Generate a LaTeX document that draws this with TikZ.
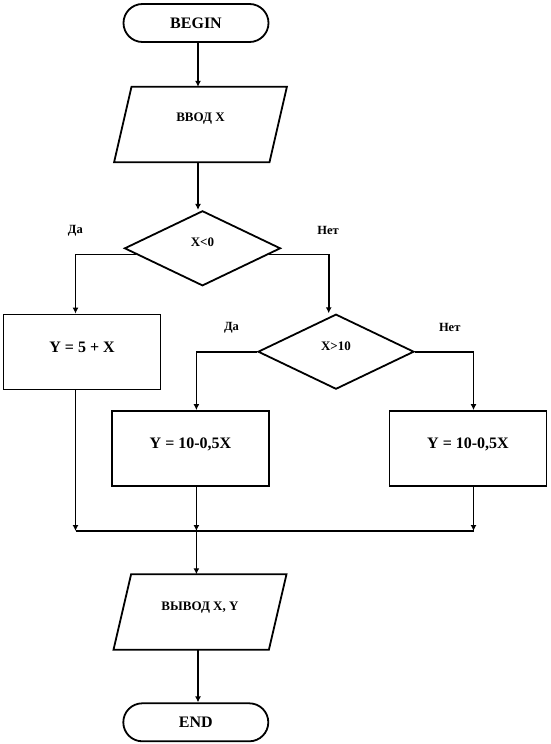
\documentclass[tikz,border=0pt]{standalone}
\usepackage{fontspec}
\setmainfont{Liberation Serif}
\usetikzlibrary{shapes.geometric,shapes.misc,arrows.meta,calc}
\tikzset{
  term/.style={draw, line width=1.8pt, rounded rectangle, minimum width=145pt, minimum height=38pt, inner sep=0pt, font=\fontsize{16}{18}\selectfont\bfseries},
  procbox/.style={draw, line width=1.8pt, rectangle, minimum width=157pt, minimum height=75pt, inner sep=0pt, text height=0pt, text depth=0pt, font=\fontsize{16}{18}\selectfont\bfseries},
  decis/.style={draw, line width=1.8pt, diamond, minimum width=156pt, minimum height=75pt, inner sep=0pt, text height=0pt, font=\fontsize{13}{15}\selectfont\bfseries},
  iobox/.style={rectangle, minimum width=155pt, minimum height=75pt, inner sep=0pt, text height=0pt, font=\fontsize{13}{15}\selectfont\bfseries},
  pgram/.style={line width=1.8pt},
  lbl/.style={font=\fontsize{12.5}{14}\selectfont\bfseries, inner sep=0pt},
  conn/.style={line width=1.8pt},
  arr/.style={line width=1.8pt, -{Latex[length=6pt,width=6pt]}}
}
\begin{document}
\begin{tikzpicture}[x=1pt,y=-1pt]
\useasboundingbox (0,0) rectangle (550,744);
% columns for connectors
\coordinate (colA) at (198,0);
\coordinate (colL) at (75.5,0);
\coordinate (colR1) at (328.7,0);
\coordinate (colM) at (196.4,0);
\coordinate (colR2) at (473.5,0);
\coordinate (mrg) at (0,531);

\node[term] (begin) at (196,23) {BEGIN};
\node[iobox, text depth=6pt] (in) at (200.5,124.5) {ВВОД X};
\draw[pgram] ([xshift=8.7pt]in.north west) -- ([xshift=8.7pt]in.north east) -- ([xshift=-8.7pt]in.south east) -- ([xshift=-8.7pt]in.south west) -- cycle;
\node[decis, text depth=4pt] (d1) at (202.5,248.3) {X<0};
\node[procbox] (b1) at (82,352) {Y = 5 + X};
\node[decis, text depth=2pt] (d2) at (336,351.7) {X>10};
\node[procbox] (b2) at (190.5,448.5) {Y = 10-0,5X};
\node[procbox] (b3) at (468,448.5) {Y = 10-0,5X};
\node[iobox] (out) at (200,612) {ВЫВОД X, Y};
\draw[pgram] ([xshift=8.8pt]out.north west) -- ([xshift=8.8pt]out.north east) -- ([xshift=-8.8pt]out.south east) -- ([xshift=-8.8pt]out.south west) -- cycle;
\node[term] (end) at (195.8,722.3) {END};

\node[lbl] (yes1) at (75.4,230.7) {Да};
\node[lbl] (no1) at (328,230.7) {Нет};
\node[lbl] (yes2) at (231.5,327.3) {Да};
\node[lbl] (no2) at (449.7,327.3) {Нет};

% connectors
\draw[arr] (begin.south -| colA) -- (in.north -| colA);
\draw[arr] (in.south -| colA) -- (d1.north -| colA);
\draw[arr] ($(d1.west)!0.16!(d1.south)$) -| (b1.north -| colL);
\draw[arr] ($(d1.east)!0.16!(d1.south)$) -| (d2.north -| colR1);
\draw[arr] (d2.west) -| (b2.north -| colM);
\draw[arr] (d2.east) -| (b3.north -| colR2);
\draw[arr] (b1.south -| colL) -- (colL |- mrg);
\draw[arr] (b2.south -| colM) -- (colM |- mrg);
\draw[arr] (b3.south -| colR2) -- (colR2 |- mrg);
\draw[conn] (colL |- mrg) -- (colR2 |- mrg);
\draw[arr] (colM |- mrg) -- (out.north -| colM);
\draw[arr] (out.south -| colA) -- (end.north -| colA);
\end{tikzpicture}
\end{document}
